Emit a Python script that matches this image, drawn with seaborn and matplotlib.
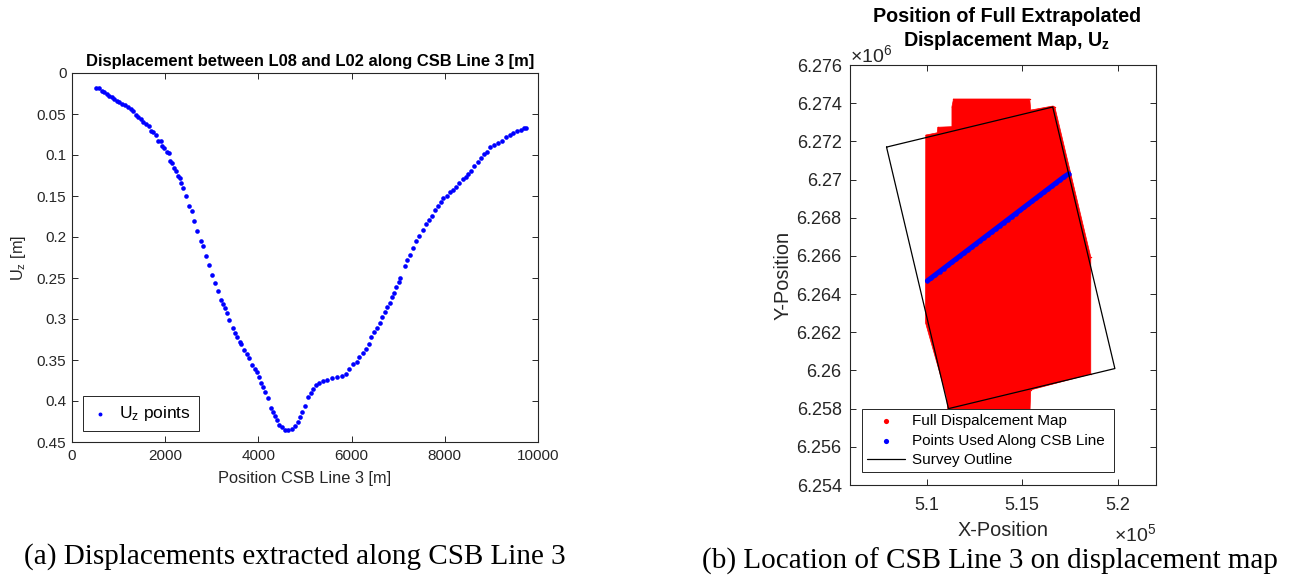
import matplotlib
matplotlib.use('Agg')
import matplotlib.pyplot as plt
import pandas as pd
import seaborn as sns

sns.set_style('ticks')
plt.rcParams['font.family'] = ['Liberation Sans', 'DejaVu Sans']
plt.rcParams['mathtext.fontset'] = 'custom'
plt.rcParams['mathtext.rm'] = 'Liberation Sans'
plt.rcParams['mathtext.it'] = 'Liberation Sans'
plt.rcParams['mathtext.bf'] = 'Liberation Sans:bold'
plt.rcParams['mathtext.default'] = 'regular'

# left panel
position = [515, 579, 636, 686, 744, 801, 851, 901, 958, 1015, 1073, 1137, 1194, 1259, 1316, 1373, 1423, 1480,
            1530, 1588, 1659, 1702, 1745, 1795, 1838, 1902, 1938, 1981, 2031, 2074, 2103, 2153, 2189, 2231,
            2267, 2310, 2346, 2375, 2446, 2518, 2569, 2625, 2690, 2761, 2818, 2876, 2947, 3011, 3058, 3133,
            3191, 3230, 3277, 3333, 3369, 3447, 3504, 3541, 3605, 3626, 3691, 3748, 3805, 3863, 3920, 3963,
            4006, 4048, 4091, 4141, 4206, 4263, 4306, 4349, 4406, 4449, 4506, 4571, 4642, 4714, 4785, 4857,
            4893, 4943, 5000, 5071, 5121, 5179, 5236, 5307, 5393, 5479, 5572, 5679, 5787, 5880, 5951, 6023,
            6109, 6166, 6237, 6309, 6380, 6427, 6489, 6551, 6606, 6661, 6707, 6762, 6817, 6863, 6918, 6957,
            7012, 7039, 7146, 7196, 7253, 7325, 7382, 7446, 7525, 7597, 7654, 7726, 7783, 7854, 7912, 7969,
            8040, 8112, 8169, 8241, 8312, 8384, 8455, 8505, 8563, 8634, 8706, 8770, 8842, 8913, 8970, 9056,
            9135, 9221, 9314, 9399, 9471, 9543, 9628, 9700, 9743]
uz = [.0187, .0187, .0216, .0232, .0256, .0277, .0293, .0313, .0338, .0354, .0374, .0394, .0415, .0439, .0468,
      .0512, .0533, .0557, .0598, .0626, .0642, .0703, .0716, .0756, .0825, .0833, .089, .0919, .0959, .098,
      .1069, .1102, .1155, .1191, .1252, .1285, .1346, .1403, .1497, .1619, .168, .18, .1924, .2046, .211,
      .2228, .2342, .2464, .2565, .2655, .2768, .2817, .287, .2931, .3012, .3114, .3175, .3224, .3277, .3305,
      .3378, .3427, .348, .3561, .3614, .3642, .3703, .3776, .3825, .3886, .3959, .4081, .413, .4183, .4232,
      .4293, .4321, .4354, .4358, .4345, .4305, .4252, .4191, .413, .4057, .3955, .3906, .3858, .3805, .3776,
      .3752, .3744, .3723, .3711, .3695, .3671, .3614, .3549, .352, .3467, .3419, .337, .3305, .3215, .3154,
      .3113, .3044, .2971, .291, .2857, .2809, .2727, .2678, .2613, .2544, .2504, .235, .2281, .222, .2139,
      .2045, .1988, .1915, .1841, .1793, .174, .1675, .1618, .1569, .1528, .15, .1447, .1427, .1386, .1345,
      .1297, .1264, .1236, .1191, .1134, .1081, .104, .0988, .0959, .0906, .0874, .0858, .0825, .0784, .076,
      .0727, .0707, .0695, .0671, .0667]

# right panel
map_x = [5.0996, 5.1056, 5.1059, 5.1133, 5.1133, 5.1141, 5.1540, 5.1545, 5.1660, 5.1671, 5.1859, 5.1859,
         5.1545, 5.1540, 5.1115, 5.1105, 5.0995, 5.0995]
map_y = [6.27233, 6.27245, 6.27274, 6.27277, 6.27382, 6.27422, 6.27422, 6.27364, 6.27385, 6.2738, 6.26594,
         6.25981, 6.25898, 6.2575, 6.2575, 6.25861, 6.26249, 6.26332]
outline_x = [5.0791, 5.1660, 5.1985, 5.1115, 5.0791]
outline_y = [6.2717, 6.2738, 6.2601, 6.2580, 6.2717]
line_x = [5.1005, 5.1026, 5.1047, 5.1068, 5.1089, 5.1110, 5.1131, 5.1152, 5.1173, 5.1194, 5.1215, 5.1236,
          5.1257, 5.1278, 5.1299, 5.1320, 5.1341, 5.1362, 5.1383, 5.1404, 5.1425, 5.1446, 5.1467, 5.1488,
          5.1509, 5.1530, 5.1551, 5.1572, 5.1593, 5.1614, 5.1635, 5.1656, 5.1677, 5.1698, 5.1719, 5.1744]
line_y = [6.26470, 6.26486, 6.26502, 6.26518, 6.26534, 6.26550, 6.26566, 6.26582, 6.26598, 6.26614, 6.26630,
          6.26646, 6.26662, 6.26678, 6.26694, 6.26710, 6.26726, 6.26742, 6.26758, 6.26774, 6.26790, 6.26806,
          6.26822, 6.26838, 6.26854, 6.26870, 6.26886, 6.26902, 6.26918, 6.26934, 6.26950, 6.26966, 6.26982,
          6.26998, 6.27014, 6.27030]
x_ticks = [5.1, 5.15, 5.2]
y_ticks = [6.254, 6.256, 6.258, 6.26, 6.262, 6.264, 6.266, 6.268, 6.27, 6.272, 6.274, 6.276]

GREY = '#262626'
W, H = 1294, 575
fig = plt.figure(figsize=(W / 100, H / 100), dpi=100)


def box(l, t, r, b):
    return [l / W, 1 - b / H, (r - l) / W, (b - t) / H]


def style(ax, size, pad):
    ax.tick_params(direction='in', top=True, right=True, length=4, width=0.7, color=GREY,
                   labelcolor=GREY, labelsize=size)
    ax.tick_params(axis='x', pad=pad)
    ax.tick_params(axis='y', pad=4)
    for s in ax.spines.values():
        s.set_visible(True)
        s.set_linewidth(0.8)
        s.set_color(GREY)


ax1 = fig.add_axes(box(72, 73, 538, 442))
sns.scatterplot(data=pd.DataFrame({'x': position, 'y': uz}), x='x', y='y', color='#0000ff', s=11,
                linewidth=0, label='$U_z$ points', ax=ax1)
ax1.set_xlim(0, 10000)
ax1.set_ylim(0.45, 0)
ax1.set_xticks(range(0, 10001, 2000))
ax1.set_yticks([0, .05, .1, .15, .2, .25, .3, .35, .4, .45])
ax1.set_yticklabels(['0', '0.05', '0.1', '0.15', '0.2', '0.25', '0.3', '0.35', '0.4', '0.45'])
style(ax1, 11, 5)
ax1.set_xlabel('Position CSB Line 3 [m]', fontsize=11.8, color=GREY, labelpad=5.5)
ax1.set_ylabel('$U_z$ [m]', fontsize=11.8, color=GREY, labelpad=6)
ax1.set_title('Displacement between L08 and L02 along CSB Line 3 [m]', fontsize=11.9, fontweight='bold',
              color='black', pad=5, x=0.511)
leg = ax1.legend(loc='lower left', bbox_to_anchor=(11 / 466, 11 / 369), fontsize=12.5, frameon=True,
                 fancybox=False, framealpha=1, edgecolor=GREY, borderaxespad=0, labelcolor='black',
                 handlelength=1.1, handletextpad=0.55, borderpad=0.45, markerscale=0.85)
leg.get_frame().set_linewidth(0.7)

ax2 = fig.add_axes(box(850, 65, 1156, 485))
ax2.fill(map_x, map_y, color='#ff0000', linewidth=0.5, zorder=1)
sns.scatterplot(x=map_x, y=map_y, color='#ff0000', s=1, linewidth=0, label='Full Dispalcement Map', ax=ax2)
sns.lineplot(x=line_x, y=line_y, sort=False, estimator=None, color='#0000ff', linewidth=3.6, ax=ax2, zorder=3,
             legend=False)
sns.scatterplot(x=line_x, y=line_y, color='#0000ff', s=10, linewidth=0, label='Points Used Along CSB Line',
                ax=ax2, zorder=3)
sns.lineplot(x=outline_x, y=outline_y, sort=False, estimator=None, color='black', linewidth=0.9,
             label='Survey Outline', ax=ax2, zorder=4)
ax2.set_xlim(5.06, 5.22)
ax2.set_ylim(6.254, 6.276)
ax2.set_xticks(x_ticks)
ax2.set_xticklabels(['5.1', '5.15', '5.2'])
ax2.set_yticks(y_ticks)
ax2.set_yticklabels(['%g' % v for v in y_ticks])
style(ax2, 13, 9)
ax2.tick_params(axis='y', pad=6)
ax2.set_xlabel('X-Position', fontsize=14.3, color=GREY, labelpad=5)
ax2.set_ylabel('Y-Position', fontsize=14.3, color=GREY, labelpad=3)
# two separate texts so the wide first line does not box in the x10^6 label
fig.text(1007 / W, 1 - 16 / H, 'Position of Full Extrapolated', fontsize=14.2, fontweight='bold', color='black',
         ha='center', va='center')
fig.text(1007 / W, 1 - 41 / H, 'Displacement Map, $\\mathbf{U_z}$', fontsize=14.2, fontweight='bold',
         color='black', ha='center', va='center')
ax2.text(0, 0.997, '$\\times10^6$', transform=ax2.transAxes, fontsize=14, color=GREY, va='bottom', ha='left')
ax2.text(1, -0.09, '$\\times10^5$', transform=ax2.transAxes, fontsize=14, color=GREY, va='top', ha='right')
handles, labels = ax2.get_legend_handles_labels()
leg2 = ax2.legend(handles, labels, loc='lower left', bbox_to_anchor=(12 / 306, 13 / 420, 252 / 306, 65 / 420),
                  mode='expand', fontsize=11, frameon=True, fancybox=False, framealpha=1, edgecolor=GREY,
                  borderaxespad=0, labelspacing=0.38, handlelength=2.5, handletextpad=0.5, labelcolor='black',
                  borderpad=0.3)
leg2.get_frame().set_linewidth(0.7)
leg2.set_zorder(10)
for h in leg2.legend_handles[:2]:
    h.set_sizes([14])

fig.text(295 / W, 1 - 557 / H, '(a) Displacements extracted along CSB Line 3', family='Liberation Serif',
         fontsize=21, color='black', ha='center', va='center')
fig.text(990 / W, 1 - 561 / H, '(b) Location of CSB Line 3 on displacement map', family='Liberation Serif',
         fontsize=21, color='black', ha='center', va='center')

plt.savefig('out.png', dpi=100)
